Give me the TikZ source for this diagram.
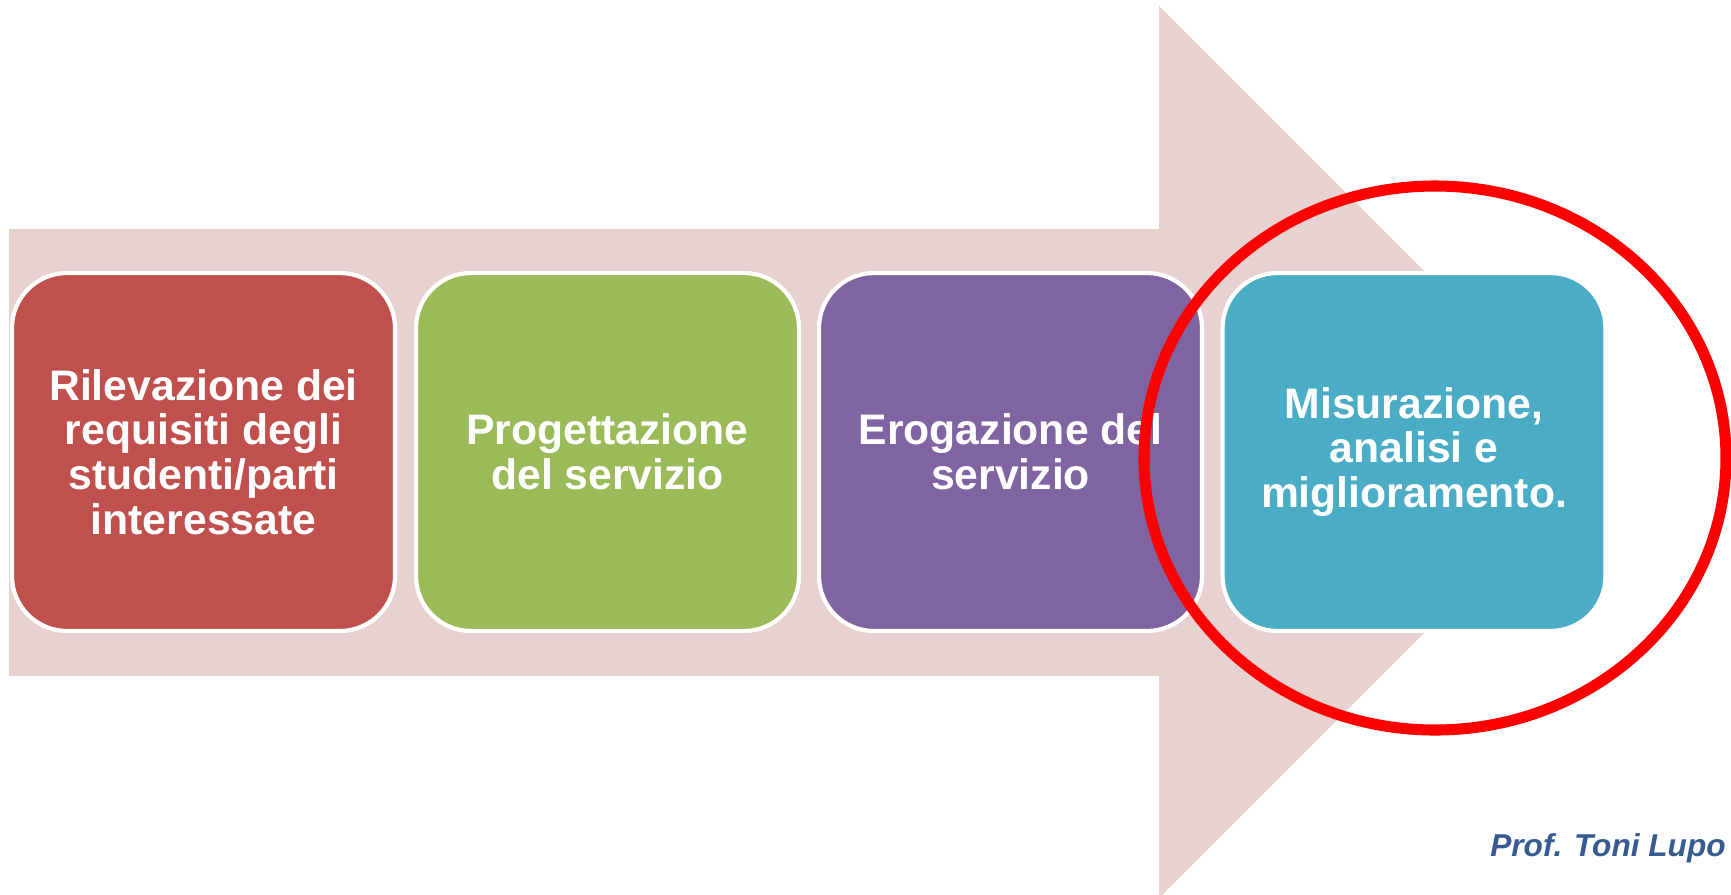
\documentclass[tikz,border=0pt]{standalone}
\usepackage{fontspec}
\setmainfont{Liberation Sans}
\definecolor{arrowpink}{RGB}{231,209,209}
\definecolor{boxred}{RGB}{192,80,77}
\definecolor{boxgreen}{RGB}{155,187,89}
\definecolor{boxpurple}{RGB}{128,100,162}
\definecolor{boxblue}{RGB}{75,172,198}
\definecolor{profblue}{RGB}{55,90,145}
\tikzset{
  stepbox/.style={draw=white, line width=2.4pt, rounded corners=1.1cm,
    minimum width=383*0.02cm, minimum height=358*0.02cm, inner sep=0pt,
    align=center, text=white,
    font=\fontsize{24.3}{25.5}\selectfont\bfseries},
}
\begin{document}
\begin{tikzpicture}[x=0.02cm,y=-0.02cm]
\useasboundingbox (0,0) rectangle (1731,894);
% big arrow
\fill[arrowpink] (9,229) -- (1159,229) -- (1159,6) -- (1605,452) -- (1159,898) -- (1159,676) -- (9,676) -- cycle;
% boxes
\node[stepbox, fill=boxred] (b1) at (203.5,452) {Rilevazione dei\\requisiti degli\\studenti/parti\\interessate};
\node[stepbox, fill=boxgreen] (b2) at (607.5,452) {Progettazione\\del servizio};
\node[stepbox, fill=boxpurple] (b3) at (1010.5,452) {Erogazione del\\servizio};
\node[stepbox, fill=boxblue] (b4) at (1414,452) {Misurazione,\\analisi e\\miglioramento.};
% red ellipse
\draw[red, line width=6.3pt] (1435,458) ellipse [x radius=291*0.02cm, y radius=272*0.02cm];
% author
\node[anchor=east, inner sep=0pt, text=profblue, font=\fontsize{18}{20}\selectfont\bfseries\itshape] (prof) at (1726,848) {Prof. Toni Lupo};
\end{tikzpicture}
\end{document}
